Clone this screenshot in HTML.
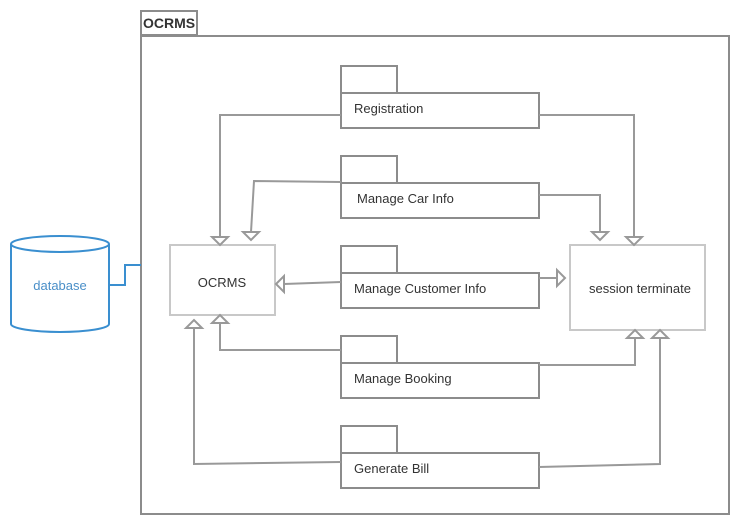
<!DOCTYPE html>
<html><head><meta charset="utf-8"><style>
html,body{margin:0;padding:0;background:#fff;width:740px;height:525px;overflow:hidden}
svg{display:block}
text{font-family:"Liberation Sans",sans-serif;font-size:13px;fill:#333}
</style></head><body>
<svg width="740" height="525" viewBox="0 0 740 525" xmlns="http://www.w3.org/2000/svg">
<g fill="none" stroke="#8c8c8c" stroke-width="2">
<rect x="141" y="11" width="56" height="24" fill="#fff"/>
<rect x="141" y="36" width="588" height="478"/>
<rect x="341" y="66" width="56" height="27"/><rect x="341" y="93" width="198" height="35"/>
<rect x="341" y="156" width="56" height="27"/><rect x="341" y="183" width="198" height="35"/>
<rect x="341" y="246" width="56" height="27"/><rect x="341" y="273" width="198" height="35"/>
<rect x="341" y="336" width="56" height="27"/><rect x="341" y="363" width="198" height="35"/>
<rect x="341" y="426" width="56" height="27"/><rect x="341" y="453" width="198" height="35"/>
</g>
<g fill="none" stroke="#c8c8c8" stroke-width="2">
<rect x="170" y="245" width="105" height="70"/>
<rect x="570" y="245" width="135" height="85"/>
</g>
<g fill="none" stroke="#999" stroke-width="2">
<polyline points="341,115 220,115 220,237"/><polygon points="212,237 228,237 220,245" fill="#fff"/>
<polyline points="539,115 634,115 634,237"/><polygon points="626,237 642,237 634,245" fill="#fff"/>
<polyline points="341,182 254,181 251,232"/><polygon points="243,232 259,232 251,240" fill="#fff"/>
<polyline points="539,195 600,195 600,232"/><polygon points="592,232 608,232 600,240" fill="#fff"/>
<polyline points="341,282 284,284"/><polygon points="284,276 284,292 276,284" fill="#fff"/>
<polyline points="539,278 557,278"/><polygon points="557,270 557,286 565,278" fill="#fff"/>
<polyline points="341,350 220,350 220,323"/><polygon points="212,323 228,323 220,315" fill="#fff"/>
<polyline points="539,365 635,365 635,338"/><polygon points="627,338 643,338 635,330" fill="#fff"/>
<polyline points="341,462 194,464 194,328"/><polygon points="186,328 202,328 194,320" fill="#fff"/>
<polyline points="539,467 660,464 660,338"/><polygon points="652,338 668,338 660,330" fill="#fff"/>
</g>
<g fill="#fff" stroke="#3a8fd0" stroke-width="2">
<polyline points="109,285 125,285 125,265 141,265" fill="none"/>
<path d="M11,244 L11,324 A49,8 0 0 0 109,324 L109,244"/>
<ellipse cx="60" cy="244" rx="49" ry="8"/>
</g>
<text x="143" y="28" style="font-size:14px;font-weight:bold">OCRMS</text>
<text x="354" y="113">Registration</text>
<text x="357" y="203">Manage Car Info</text>
<text x="354" y="293">Manage Customer Info</text>
<text x="354" y="383">Manage Booking</text>
<text x="354" y="473">Generate Bill</text>
<text x="222" y="287" text-anchor="middle">OCRMS</text>
<text x="640" y="293" text-anchor="middle">session terminate</text>
<text x="60" y="290" text-anchor="middle" style="fill:#4a8fc8">database</text>
</svg>
</body></html>
